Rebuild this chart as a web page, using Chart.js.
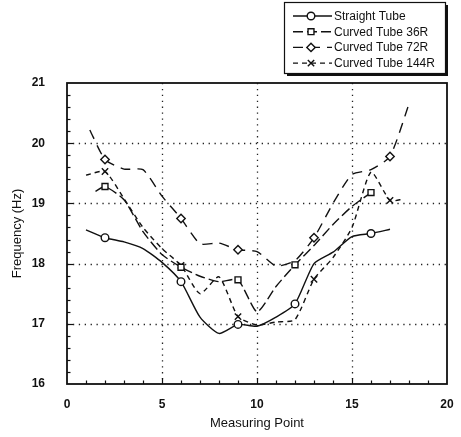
<!DOCTYPE html>
<html>
<head>
<meta charset="utf-8">
<script src="https://cdn.jsdelivr.net/npm/chart.js@4.4.0/dist/chart.umd.min.js"></script>
<style>
  html, body { margin: 0; padding: 0; background: #fff; }
</style>
</head>
<body>
<canvas id="chart" width="461" height="437"></canvas>
<script>
// Values (frequency vs measuring point)
const straightX = [1, 2, 3, 4, 5, 6, 7, 8, 9, 10, 11, 12, 13, 14, 15, 16, 17];
const straightY = [18.56, 18.43, 18.36, 18.25, 18.02, 17.70, 17.11, 16.84, 16.99, 16.96, 17.11, 17.33, 18.0, 18.19, 18.45, 18.5, 18.57];
const straightMarks = [2, 6, 9, 12, 16];

const tube36X = [1.5, 2, 3, 4, 5, 6, 7, 8, 9, 10, 11, 12, 13, 14, 15, 16];
const tube36Y = [19.2, 19.28, 19.06, 18.53, 18.15, 17.94, 17.79, 17.70, 17.73, 17.2, 17.62, 17.98, 18.3, 18.65, 18.95, 19.18];
const tube36Marks = [2, 6, 9, 12, 16];

const tube72X = [1.2, 2, 3, 4, 5, 6, 7, 8, 9, 10, 11, 12, 13, 14, 15, 16, 17, 18.05];
const tube72Y = [20.22, 19.73, 19.57, 19.56, 19.12, 18.75, 18.33, 18.34, 18.23, 18.2, 17.96, 18.05, 18.43, 19.0, 19.48, 19.56, 19.78, 20.7];
const tube72Marks = [2, 6, 9, 13, 17];

const tube144X = [1, 2, 3, 4, 5, 6, 7, 8, 9, 10, 11, 12, 13, 14, 15, 16, 17, 17.7];
const tube144Y = [19.47, 19.53, 19.08, 18.6, 18.25, 17.97, 17.5, 17.78, 17.12, 16.98, 17.03, 17.07, 17.74, 18.1, 18.6, 19.52, 19.05, 19.07];
const tube144Marks = [2, 6, 9, 13, 17];

const seriesLabels = ["Straight Tube", "Curved Tube 36R", "Curved Tube 72R", "Curved Tube 144R"];
const xGridValues = [5, 10, 15];
const yGridValues = [17, 18, 19, 20];

const FONT = "'Liberation Sans', Arial, sans-serif";
const INK = "#111";

// Build one dataset; markers only at the listed measuring points
function makeSeries(label, xs, ys, marks, style, dash, radius) {
  return {
    label: label,
    data: xs.map((x, i) => ({ x: x, y: ys[i] })),
    showLine: true,
    borderColor: INK,
    borderWidth: 1.4,
    borderDash: dash,
    tension: 0.2,
    pointStyle: style,
    pointBackgroundColor: "#fff",
    pointBorderColor: INK,
    pointBorderWidth: 1.4,
    pointRadius: xs.map(x => marks.includes(x) ? radius : 0),
    pointHoverRadius: 0
  };
}

// Dotted grid, inward tick marks and the frame
const framePlugin = {
  id: "frame",
  beforeDatasetsDraw(chart) {
    const { ctx, chartArea: a, scales: { x, y } } = chart;
    ctx.save();
    ctx.strokeStyle = "#222";
    ctx.lineWidth = 1.3;
    ctx.setLineDash([1.3, 4.6]);
    xGridValues.forEach(v => {
      const px = Math.round(x.getPixelForValue(v)) + 0.5;
      ctx.beginPath(); ctx.moveTo(px, a.top); ctx.lineTo(px, a.bottom); ctx.stroke();
    });
    yGridValues.forEach(v => {
      const py = Math.round(y.getPixelForValue(v)) + 0.5;
      ctx.beginPath(); ctx.moveTo(a.left, py); ctx.lineTo(a.right, py); ctx.stroke();
    });
    ctx.restore();
  },
  afterDatasetsDraw(chart) {
    const { ctx, chartArea: a, scales: { x, y } } = chart;
    ctx.save();
    ctx.strokeStyle = INK;
    ctx.lineWidth = 1.2;
    for (let v = 1; v < 20; v++) {
      const px = Math.round(x.getPixelForValue(v)) + 0.5;
      const len = v % 5 === 0 ? 6 : 3.5;
      ctx.beginPath(); ctx.moveTo(px, a.bottom); ctx.lineTo(px, a.bottom - len); ctx.stroke();
    }
    for (let k = 1; k < 25; k++) {
      const v = 16 + k * 0.2;
      const py = Math.round(y.getPixelForValue(v)) + 0.5;
      const len = k % 5 === 0 ? 6 : 3.5;
      ctx.beginPath(); ctx.moveTo(a.left, py); ctx.lineTo(a.left + len, py); ctx.stroke();
    }
    ctx.lineWidth = 1.8;
    ctx.strokeRect(a.left, a.top, a.right - a.left, a.bottom - a.top);
    ctx.restore();
  }
};

// Boxed legend with a drop shadow, top right
const legendPlugin = {
  id: "boxLegend",
  afterDraw(chart) {
    const ctx = chart.ctx;
    const box = { x: 284, y: 2, w: 161, h: 71 };
    ctx.save();
    ctx.fillStyle = INK;
    ctx.fillRect(box.x + 3, box.y + 3, box.w, box.h);
    ctx.fillStyle = "#fff";
    ctx.fillRect(box.x, box.y, box.w, box.h);
    ctx.strokeStyle = INK;
    ctx.lineWidth = 1.2;
    ctx.strokeRect(box.x + 0.5, box.y + 0.5, box.w, box.h);

    ctx.font = "12px " + FONT;
    ctx.textBaseline = "middle";
    ctx.textAlign = "left";
    chart.data.datasets.forEach((ds, i) => {
      const rowY = 16 + i * 15.7;
      ctx.save();
      ctx.strokeStyle = INK;
      ctx.lineWidth = 1.4;
      ctx.setLineDash(ds.borderDash || []);
      ctx.beginPath(); ctx.moveTo(293, rowY); ctx.lineTo(332, rowY); ctx.stroke();
      ctx.restore();
      ctx.save();
      ctx.fillStyle = "#fff";
      ctx.strokeStyle = INK;
      ctx.lineWidth = 1.4;
      Chart.helpers.drawPoint(ctx, {
        pointStyle: ds.pointStyle,
        radius: Math.max(...ds.pointRadius),
        rotation: 0,
        borderWidth: 1.4
      }, 311, rowY);
      ctx.restore();
      ctx.fillStyle = INK;
      ctx.fillText(ds.label, 334, rowY + 0.5);
    });
    ctx.restore();
  }
};

new Chart(document.getElementById("chart"), {
  type: "scatter",
  data: {
    datasets: [
      makeSeries(seriesLabels[0], straightX, straightY, straightMarks, "circle", [], 3.8),
      makeSeries(seriesLabels[1], tube36X, tube36Y, tube36Marks, "rect", [10, 4], 4.2),
      makeSeries(seriesLabels[2], tube72X, tube72Y, tube72Marks, "rectRot", [10, 7], 4.2),
      makeSeries(seriesLabels[3], tube144X, tube144Y, tube144Marks, "crossRot", [5, 4], 4.5)
    ]
  },
  options: {
    responsive: false,
    animation: false,
    events: [],
    layout: { padding: { top: 83, right: 14, left: 0, bottom: 0 } },
    plugins: {
      legend: { display: false },
      tooltip: { enabled: false }
    },
    scales: {
      x: {
        type: "linear",
        min: 0,
        max: 20,
        grid: { display: false },
        border: { display: false },
        ticks: {
          stepSize: 5,
          padding: 5,
          color: INK,
          font: { family: FONT, size: 12, weight: "bold" }
        },
        title: {
          display: true,
          text: "Measuring Point",
          color: INK,
          font: { family: FONT, size: 13 },
          padding: { top: 0, bottom: 6 }
        },
        afterFit(scale) { scale.height = 53; }
      },
      y: {
        type: "linear",
        min: 16,
        max: 21,
        grid: { display: false },
        border: { display: false },
        ticks: {
          stepSize: 1,
          padding: 14,
          color: INK,
          font: { family: FONT, size: 12, weight: "bold" }
        },
        title: {
          display: true,
          text: "Frequency (Hz)",
          color: INK,
          font: { family: FONT, size: 13 },
          padding: { top: 10, bottom: 0 }
        },
        afterFit(scale) { scale.width = 67; }
      }
    }
  },
  plugins: [framePlugin, legendPlugin]
});
</script>
</body>
</html>
